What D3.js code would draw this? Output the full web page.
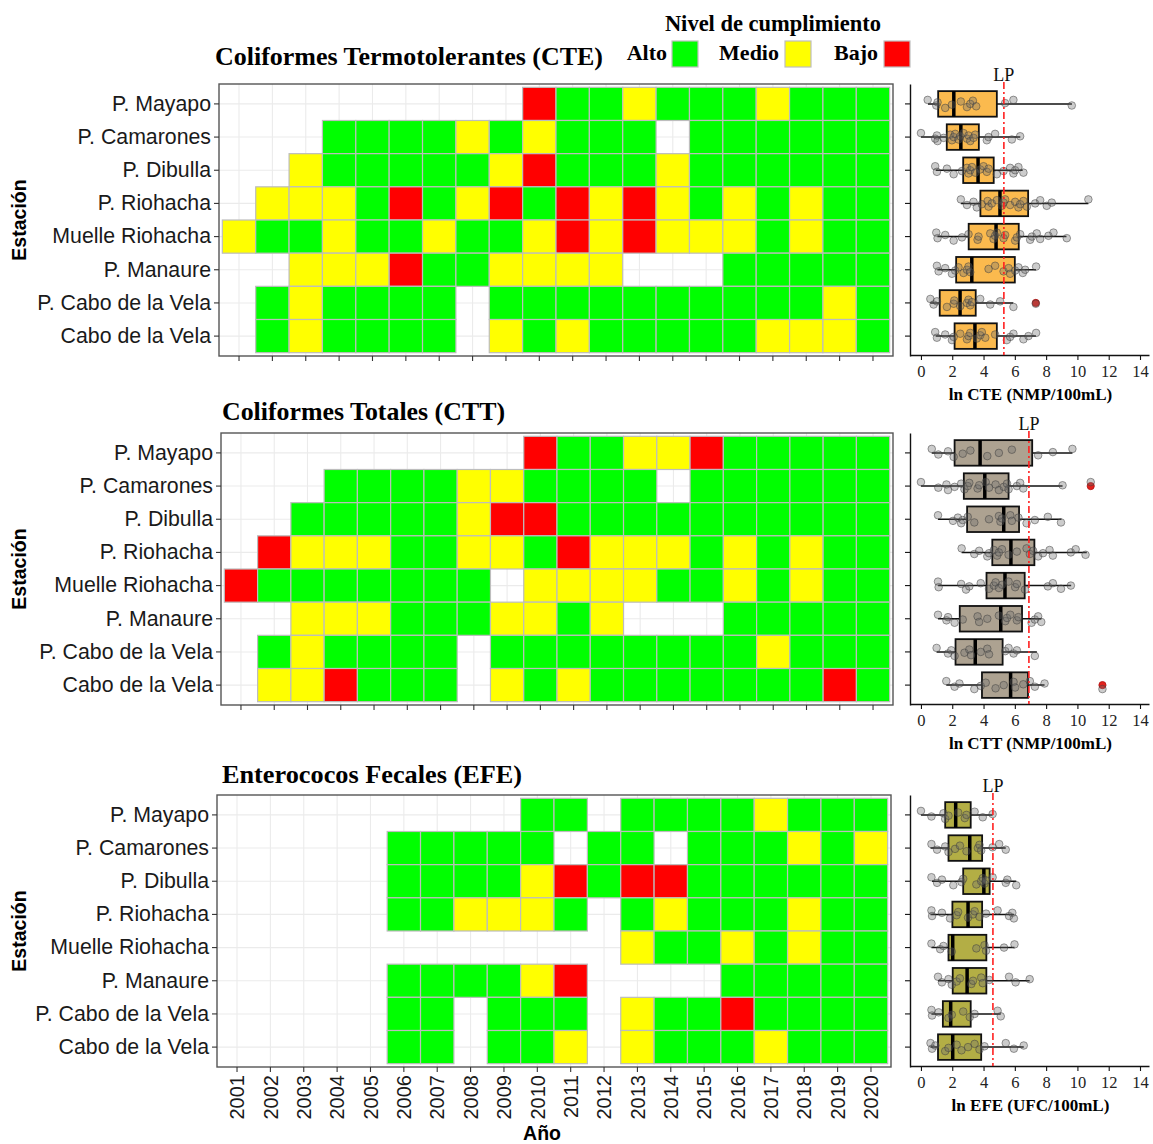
<!DOCTYPE html>
<html lang="es">
<head>
<meta charset="utf-8">
<title>Nivel de cumplimiento por estación</title>
<script src="https://cdn.jsdelivr.net/npm/d3@7/dist/d3.min.js"></script>
<style>
  html, body { margin: 0; padding: 0; background: #ffffff; }
  svg { display: block; }
</style>
</head>
<body>
<svg id="chart" width="1153" height="1144"></svg>
<script>
// ---------------- data ----------------
const years = [2001, 2002, 2003, 2004, 2005, 2006, 2007, 2008, 2009, 2010,
               2011, 2012, 2013, 2014, 2015, 2016, 2017, 2018, 2019, 2020];

const stations = ["P. Mayapo", "P. Camarones", "P. Dibulla", "P. Riohacha",
                  "Muelle Riohacha", "P. Manaure", "P. Cabo de la Vela", "Cabo de la Vela"];

// compliance level codes: A = Alto, M = Medio, B = Bajo, "-" = sin dato
const levelCodes  = ["A", "M", "B"];
const levelNames  = ["Alto", "Medio", "Bajo"];
const levelColors = ["#00FF00", "#FFFF00", "#FF0000"];

// one string per station, one character per year (2001..2020)
const cteGrid = [
  "---------BAAMAAAMAAA",
  "---AAAAMAMAAA-AAAAAA",
  "--MAAAAAMBAAAMAAAAAA",
  "-MMMABAMBABMBMAMAMAA",
  "MAAMAAMAAMBMBMMMAMAA",
  "--MMMBAAMMMM---AAAAA",
  "-AMAAAA-AAAAAAAAAAMA",
  "-AMAAAA-MAMAAAAAMMMA"
];
const cttGrid = [
  "---------BAAMMBAAAAA",
  "---AAAAMMAAAA-AAAAAA",
  "--AAAAAMBBAAAAAAAAAA",
  "-BMMMAAMMABMMMAMAMAA",
  "BAAAAAAA-MMMMAAMAMAA",
  "--MMMAAAMMAM---AAAAA",
  "-AMAAAA-AAAAAAAAMAAA",
  "-MMBAAA-MAMAAAAAAABA"
];
const efeGrid = [
  "---------AA-AAAAMAAA",
  "-----AAAAA-AA-AAAMAM",
  "-----AAAAMBABBAAAAAA",
  "-----AAMMMA-AMAAAMAA",
  "------------MAAMAMAA",
  "-----AAAAMB----AAAAA",
  "-----AA-AAA-MAABAAAA",
  "-----AA-AAM-MAAAMAAA"
];

// box statistics per station: [whisker low, Q1, median, Q3, whisker high] (ln units)
const cteStats = [
  [0.45, 1.10, 2.10, 4.85, 9.65],
  [0.00, 1.65, 2.55, 3.70, 6.35],
  [0.95, 2.70, 3.65, 4.65, 6.50],
  [2.55, 3.80, 5.05, 6.85, 10.70],
  [1.05, 3.05, 4.80, 6.25, 9.30],
  [1.05, 2.25, 3.25, 6.00, 7.35],
  [0.60, 1.20, 2.50, 3.50, 5.90],
  [0.95, 2.15, 3.45, 4.85, 7.35]
];
const cttStats = [
  [0.69, 2.15, 3.78, 7.11, 9.68],
  [0.00, 2.74, 4.08, 5.60, 9.05],
  [1.09, 2.95, 5.29, 6.27, 8.98],
  [2.60, 4.56, 5.75, 7.25, 10.60],
  [1.09, 4.19, 5.37, 6.63, 9.60],
  [1.09, 2.48, 5.10, 6.46, 7.70],
  [1.00, 2.21, 3.47, 5.22, 7.41],
  [1.62, 3.90, 5.73, 6.84, 7.90]
];
const efeStats = [
  [0.00, 1.55, 2.22, 3.18, 4.58],
  [0.61, 1.76, 3.12, 3.91, 5.42],
  [0.71, 2.70, 4.02, 4.39, 6.09],
  [0.61, 2.01, 3.01, 3.91, 5.94],
  [0.67, 1.76, 2.03, 4.18, 5.98],
  [1.09, 2.03, 2.95, 4.18, 6.95],
  [0.67, 1.40, 1.90, 3.18, 5.10],
  [0.61, 1.09, 2.03, 3.85, 6.57]
];

// outliers per station
const cteOutliers = [[], [], [], [], [], [], [7.34], []];
const cttOutliers = [[], [10.85], [], [], [], [], [], [11.6]];
const efeOutliers = [[], [], [], [], [], [], [], []];

// individual observations per station (ln units)
const ctePoints = [
  [0.43, 0.98, 1.06, 1.55, 1.98, 2.55, 2.94, 3.15, 3.32, 3.53, 5.38, 5.91, 9.64],
  [0.00, 0.91, 1.02, 1.06, 1.45, 1.87, 1.98, 2.09, 2.19, 2.40, 2.51, 2.72, 2.94, 3.04, 3.15, 3.36, 3.47, 4.21, 4.32, 4.74, 5.81, 6.34],
  [0.91, 1.02, 1.66, 2.09, 2.62, 2.94, 3.04, 3.15, 3.26, 3.47, 3.79, 4.00, 4.21, 4.32, 4.85, 5.28, 5.70, 5.91, 6.02, 6.23, 6.55],
  [2.55, 2.94, 3.36, 3.57, 3.89, 4.26, 4.32, 4.53, 4.85, 5.17, 5.28, 5.38, 5.70, 6.02, 6.23, 6.34, 6.55, 6.77, 7.30, 7.62, 8.04, 8.36, 10.70],
  [0.98, 1.06, 1.55, 2.09, 2.62, 3.04, 3.62, 3.68, 4.43, 4.64, 4.74, 4.85, 5.28, 5.38, 6.02, 6.13, 6.34, 6.98, 7.09, 7.40, 7.62, 8.15, 8.47, 9.32],
  [1.02, 1.13, 1.55, 1.98, 2.19, 2.40, 2.72, 2.94, 3.04, 3.15, 4.32, 4.74, 5.28, 5.60, 5.70, 6.02, 6.23, 6.51, 6.66, 7.36],
  [0.60, 0.81, 1.02, 1.66, 2.09, 2.13, 2.51, 2.94, 3.04, 3.15, 3.26, 3.79, 4.43, 5.06, 5.91, 7.34],
  [0.91, 1.02, 1.55, 1.98, 2.09, 2.51, 2.94, 3.04, 3.15, 3.57, 3.79, 3.89, 4.11, 4.74, 5.49, 5.70, 5.91, 6.55, 6.87, 7.36]
];
const cttPoints = [
  [0.69, 1.11, 1.73, 2.09, 2.67, 3.16, 4.24, 4.98, 5.81, 7.49, 8.43, 9.68],
  [0.00, 1.11, 1.63, 1.73, 2.15, 2.57, 2.78, 2.99, 3.09, 3.62, 3.72, 4.14, 4.35, 4.77, 4.98, 5.29, 5.50, 5.60, 6.13, 6.34, 6.54, 9.05, 10.85],
  [1.09, 2.05, 2.36, 2.57, 2.67, 2.99, 3.41, 4.35, 4.98, 5.08, 5.18, 5.71, 5.81, 6.23, 6.75, 7.28, 8.11, 8.95],
  [2.60, 3.41, 3.72, 4.24, 4.35, 4.66, 4.87, 4.98, 5.18, 5.60, 6.13, 6.75, 6.96, 7.17, 7.49, 7.80, 8.22, 8.43, 9.58, 9.89, 10.52],
  [1.09, 1.13, 2.57, 2.88, 3.09, 3.82, 4.35, 4.66, 4.77, 4.98, 5.18, 5.60, 6.02, 6.13, 6.65, 8.11, 8.43, 8.95, 9.58],
  [1.09, 1.63, 1.73, 2.15, 2.67, 3.62, 3.72, 4.24, 4.98, 5.39, 5.50, 5.71, 6.13, 6.23, 7.07, 7.28, 7.49, 7.69],
  [1.00, 1.73, 1.94, 2.15, 2.78, 3.09, 3.20, 3.82, 4.24, 4.35, 5.39, 5.60, 5.92, 6.13, 7.28],
  [1.62, 2.15, 2.46, 3.41, 3.82, 4.14, 4.77, 5.29, 5.92, 6.02, 6.54, 6.96, 7.28, 7.90, 11.6]
];
const efePoints = [
  [0.00, 0.67, 1.44, 1.55, 1.76, 2.38, 2.80, 2.91, 3.43, 3.95, 4.58],
  [0.67, 1.03, 1.55, 1.76, 2.18, 2.49, 2.91, 3.64, 3.74, 3.85, 4.58, 5.00, 5.42],
  [0.67, 1.03, 1.34, 2.07, 2.59, 2.70, 3.54, 3.85, 3.95, 4.06, 4.16, 4.58, 5.42, 5.52, 6.09],
  [0.67, 0.71, 1.34, 1.86, 2.28, 2.38, 3.01, 3.33, 3.43, 3.74, 4.16, 4.90, 5.63, 5.84, 5.94],
  [0.67, 1.23, 1.44, 1.97, 3.54, 4.06, 4.16, 5.31, 5.98],
  [1.09, 1.34, 1.76, 1.97, 2.28, 2.49, 3.22, 3.33, 3.85, 3.95, 4.37, 5.63, 6.05, 6.95],
  [0.67, 0.71, 1.13, 1.76, 1.97, 2.70, 3.12, 3.43, 4.90, 5.10],
  [0.61, 0.71, 0.92, 1.55, 1.76, 2.28, 2.59, 3.01, 3.43, 3.74, 4.06, 5.42, 5.94, 6.57]
];

// permissible limits (LP), ln units
const cteLP = 5.3;
const cttLP = 6.9;
const efeLP = 4.6;

const boxTicks = [0, 2, 4, 6, 8, 10, 12, 14];

// ---------------- layout ----------------
const SANS  = "'Liberation Sans', Arial, sans-serif";
const SERIF = "'Liberation Serif', 'Times New Roman', serif";

const panels = [
  { title: "Coliformes Termotolerantes (CTE)", grid: cteGrid, stats: cteStats, outliers: cteOutliers,
    points: ctePoints, lp: cteLP, fill: "#FBBA4E", xTitle: "ln CTE (NMP/100mL)",
    hm: { x0: 219, x1: 893, y0: 84, y1: 356 }, titleX: 215, titleY: 65, titleW: 388, showYears: false },
  { title: "Coliformes Totales (CTT)", grid: cttGrid, stats: cttStats, outliers: cttOutliers,
    points: cttPoints, lp: cttLP, fill: "#ADA291", xTitle: "ln CTT (NMP/100mL)",
    hm: { x0: 221, x1: 893, y0: 433, y1: 705 }, titleX: 222, titleY: 420, titleW: 283, showYears: false },
  { title: "Enterococos Fecales (EFE)", grid: efeGrid, stats: efeStats, outliers: efeOutliers,
    points: efePoints, lp: efeLP, fill: "#B3AE45", xTitle: "ln EFE (UFC/100mL)",
    hm: { x0: 217, x1: 891, y0: 795, y1: 1067 }, titleX: 222, titleY: 783, titleW: 300, showYears: true }
];

const boxArea = { x0: 910, x1: 1149 };

const svg = d3.select("#chart");

// ---------------- legend ----------------
const legend = svg.append("g").attr("class", "legend");
legend.append("text")
  .attr("x", 773).attr("y", 31)
  .attr("text-anchor", "middle")
  .attr("font-family", SERIF).attr("font-weight", "bold").attr("font-size", 22.5)
  .text("Nivel de cumplimiento");

const legendItems = [
  { textEnd: 667, box: 672 },
  { textEnd: 779, box: 785 },
  { textEnd: 878, box: 884 }
];
levelNames.forEach((name, i) => {
  legend.append("text")
    .attr("x", legendItems[i].textEnd).attr("y", 60)
    .attr("text-anchor", "end")
    .attr("font-family", SERIF).attr("font-weight", "bold").attr("font-size", 22)
    .text(name);
  legend.append("rect")
    .attr("x", legendItems[i].box).attr("y", 41)
    .attr("width", 26).attr("height", 26)
    .attr("fill", levelColors[i])
    .attr("stroke", "#BEBEBE").attr("stroke-width", 1.2);
});

// ---------------- panels ----------------
panels.forEach(p => {
  const g = svg.append("g");
  const { x0, x1, y0, y1 } = p.hm;

  const x = d3.scaleBand().domain(years).range([x0, x1]).paddingInner(0).paddingOuter(0.1);
  const y = d3.scaleBand().domain(stations).range([y0, y1]).paddingInner(0).paddingOuter(0.1);

  // title
  g.append("text")
    .attr("x", p.titleX).attr("y", p.titleY)
    .attr("font-family", SERIF).attr("font-weight", "bold").attr("font-size", 25)
    .attr("textLength", p.titleW).attr("lengthAdjust", "spacingAndGlyphs")
    .text(p.title);

  // panel background and grid
  g.append("rect").attr("x", x0).attr("y", y0).attr("width", x1 - x0).attr("height", y1 - y0).attr("fill", "#fff");
  g.append("g").selectAll("line").data(years).join("line")
    .attr("x1", d => x(d) + x.bandwidth() / 2).attr("x2", d => x(d) + x.bandwidth() / 2)
    .attr("y1", y0).attr("y2", y1)
    .attr("stroke", "#EBEBEB").attr("stroke-width", 1.1);
  g.append("g").selectAll("line").data(stations).join("line")
    .attr("y1", d => y(d) + y.bandwidth() / 2).attr("y2", d => y(d) + y.bandwidth() / 2)
    .attr("x1", x0).attr("x2", x1)
    .attr("stroke", "#EBEBEB").attr("stroke-width", 1.1);

  // tiles
  const cells = [];
  stations.forEach((s, i) => {
    years.forEach((yr, j) => {
      const code = p.grid[i][j];
      const k = levelCodes.indexOf(code);
      if (k >= 0) cells.push({ station: s, year: yr, level: k });
    });
  });
  g.append("g").selectAll("rect").data(cells).join("rect")
    .attr("x", d => x(d.year)).attr("y", d => y(d.station))
    .attr("width", x.bandwidth()).attr("height", y.bandwidth())
    .attr("fill", d => levelColors[d.level])
    .attr("stroke", "#BDBDBD").attr("stroke-width", 1.2);

  // border
  g.append("rect").attr("x", x0).attr("y", y0).attr("width", x1 - x0).attr("height", y1 - y0)
    .attr("fill", "none").attr("stroke", "#555").attr("stroke-width", 1.4);

  // y axis
  const ya = g.append("g").attr("transform", `translate(${x0},0)`)
    .call(d3.axisLeft(y).tickSize(5).tickSizeOuter(0).tickPadding(3));
  ya.select(".domain").remove();
  ya.selectAll(".tick line").attr("stroke", "#333").attr("stroke-width", 1.1);
  ya.selectAll(".tick text")
    .attr("font-family", SANS).attr("font-size", 21.3).attr("fill", "#1A1A1A");

  // x axis
  const xa = g.append("g").attr("transform", `translate(0,${y1})`)
    .call(d3.axisBottom(x).tickSize(5).tickSizeOuter(0).tickFormat(p.showYears ? d => String(d) : () => ""));
  xa.select(".domain").remove();
  xa.selectAll(".tick line").attr("stroke", "#333").attr("stroke-width", 1.1);
  if (p.showYears) {
    xa.selectAll(".tick text")
      .attr("transform", "rotate(-90)")
      .attr("text-anchor", "end")
      .attr("x", -8).attr("y", 0).attr("dy", "0.36em")
      .attr("font-family", SANS).attr("font-size", 20).attr("fill", "#1A1A1A");
    g.append("text")
      .attr("x", (x0 + x1) / 2 - 12).attr("y", 1140)
      .attr("text-anchor", "middle")
      .attr("font-family", SANS).attr("font-weight", "bold").attr("font-size", 19.5)
      .text("Año");
  }

  // y title
  g.append("text")
    .attr("transform", `translate(26,${(y0 + y1) / 2}) rotate(-90)`)
    .attr("text-anchor", "middle")
    .attr("font-family", SANS).attr("font-weight", "bold").attr("font-size", 19.5)
    .text("Estación");

  // ---------------- box plot ----------------
  const bx = d3.scaleLinear().domain([-0.7, 14.575]).range([boxArea.x0, boxArea.x1]);
  const bg = g.append("g");
  const rowC = s => y(s) + y.bandwidth() / 2;
  const boxH = y.bandwidth() * 0.77;

  // axes
  const bxa = bg.append("g").attr("transform", `translate(0,${y1 - 1})`)
    .call(d3.axisBottom(bx).tickValues(boxTicks).tickSize(5).tickSizeOuter(0).tickPadding(5));
  bxa.select(".domain").attr("stroke", "#111").attr("stroke-width", 1.4);
  bxa.selectAll(".tick line").attr("stroke", "#111").attr("stroke-width", 1.1);
  bxa.selectAll(".tick text")
    .attr("font-family", SERIF).attr("font-size", 16.5).attr("fill", "#222");
  const bya = bg.append("g").attr("transform", `translate(${boxArea.x0},0)`)
    .call(d3.axisLeft(y).tickSize(5).tickSizeOuter(0).tickFormat(() => ""));
  bya.select(".domain").attr("stroke", "#111").attr("stroke-width", 1.4);
  bya.selectAll(".tick line").attr("stroke", "#111").attr("stroke-width", 1.1);

  bg.append("text")
    .attr("x", (bx(0) + bx(14)) / 2).attr("y", y1 + 44)
    .attr("text-anchor", "middle")
    .attr("font-family", SERIF).attr("font-weight", "bold").attr("font-size", 17)
    .text(p.xTitle);

  const rows = stations.map((s, i) => ({ s, st: p.stats[i], out: p.outliers[i], pts: p.points[i] }));

  // whiskers
  bg.append("g").selectAll("line").data(rows).join("line")
    .attr("x1", d => bx(d.st[0])).attr("x2", d => bx(d.st[4]))
    .attr("y1", d => rowC(d.s)).attr("y2", d => rowC(d.s))
    .attr("stroke", "#111").attr("stroke-width", 1.5);
  // boxes
  bg.append("g").selectAll("rect").data(rows).join("rect")
    .attr("x", d => bx(d.st[1])).attr("width", d => bx(d.st[3]) - bx(d.st[1]))
    .attr("y", d => rowC(d.s) - boxH / 2).attr("height", boxH)
    .attr("fill", p.fill).attr("stroke", "#111").attr("stroke-width", 1.8);
  // medians
  bg.append("g").selectAll("line").data(rows).join("line")
    .attr("x1", d => bx(d.st[2])).attr("x2", d => bx(d.st[2]))
    .attr("y1", d => rowC(d.s) - boxH / 2).attr("y2", d => rowC(d.s) + boxH / 2)
    .attr("stroke", "#000").attr("stroke-width", 3.5);

  // outliers
  const outs = rows.flatMap(r => r.out.map(v => ({ s: r.s, v })));
  bg.append("g").selectAll("circle").data(outs).join("circle")
    .attr("cx", d => bx(d.v)).attr("cy", d => rowC(d.s))
    .attr("r", 3.6).attr("fill", "#E3211C").attr("stroke", "#B01010").attr("stroke-width", 0.8);

  // observations, spread a little vertically
  const obs = rows.flatMap(r => r.pts.map((v, i) => ({ s: r.s, v, dy: ((i * 7) % 11) - 5 })));
  bg.append("g").selectAll("circle").data(obs).join("circle")
    .attr("cx", d => bx(d.v)).attr("cy", d => rowC(d.s) + d.dy * 0.8)
    .attr("r", 3.8)
    .attr("fill", "rgba(110,110,110,0.35)")
    .attr("stroke", "rgba(60,60,60,0.55)").attr("stroke-width", 0.9);

  // permissible limit
  bg.append("line")
    .attr("x1", bx(p.lp)).attr("x2", bx(p.lp))
    .attr("y1", y0 - 2).attr("y2", y1 - 1)
    .attr("stroke", "#FF2020").attr("stroke-width", 1.6)
    .attr("stroke-dasharray", "7,3,2,3");
  bg.append("text")
    .attr("x", bx(p.lp)).attr("y", y0 - 3)
    .attr("text-anchor", "middle")
    .attr("font-family", SERIF).attr("font-size", 18).attr("fill", "#111")
    .text("LP");
});
</script>
</body>
</html>
